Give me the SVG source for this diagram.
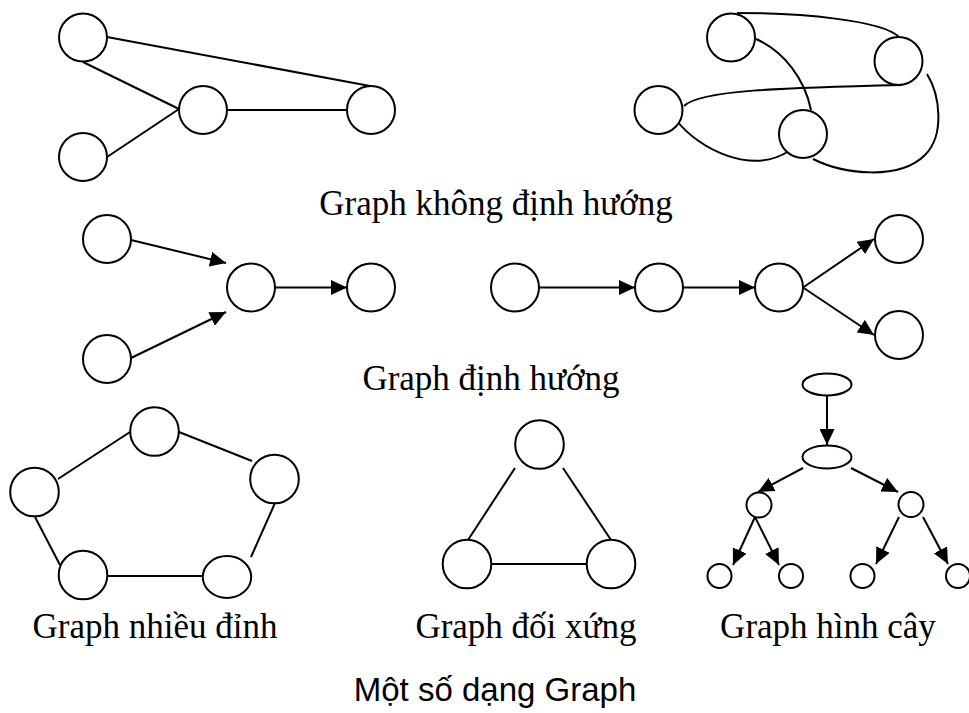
<svg xmlns="http://www.w3.org/2000/svg" width="969" height="713" viewBox="0 0 969 713">
  <style>
    .node { fill: #ffffff; stroke: #000000; stroke-width: 2; }
    .edge { fill: none; stroke: #000000; stroke-width: 2; }
    .arrow { marker-end: url(#head); }
    .cap { font-family: "Liberation Serif", "Times New Roman", serif; font-size: 35px; fill: #000000; text-anchor: middle; }
    .title { font-family: "Liberation Sans", Arial, sans-serif; font-size: 33px; fill: #000000; text-anchor: middle; }
  </style>
  <defs>
    <marker id="head" markerUnits="userSpaceOnUse" markerWidth="16" markerHeight="15" refX="16" refY="7.5" orient="auto">
      <path d="M0,0 L16,7.5 L0,15 Z" fill="#000000"/>
    </marker>
  </defs>

  <rect width="969" height="713" fill="#ffffff"/>

  <!-- connectors -->
  <g id="connectors">
    <!-- undirected graph, left -->
    <line class="edge" x1="107" y1="37" x2="370" y2="86"/>
    <line class="edge" x1="83" y1="62" x2="179" y2="109"/>
    <line class="edge" x1="107" y1="157" x2="179" y2="109"/>
    <line class="edge" x1="227" y1="110" x2="347" y2="110"/>
    <!-- undirected graph, right (curved edges) -->
    <path class="edge" d="M737,13 C800,13 882,20 899,37"/>
    <path class="edge" d="M756,39 C785,52 805,80 811,110"/>
    <path class="edge" d="M684,106 C700,90 780,88 902,85"/>
    <path class="edge" d="M677,121 C700,150 752,175 789,151"/>
    <path class="edge" d="M813,159 C845,175 900,180 925,155 C945,135 940,95 927,74"/>
    <!-- directed graph, left -->
    <line class="edge arrow" x1="131" y1="240" x2="226" y2="263"/>
    <line class="edge arrow" x1="131" y1="358" x2="226" y2="312"/>
    <line class="edge arrow" x1="275" y1="287.5" x2="347" y2="287.5"/>
    <!-- directed graph, right -->
    <line class="edge arrow" x1="539" y1="287.5" x2="635" y2="287.5"/>
    <line class="edge arrow" x1="683" y1="287.5" x2="755" y2="287.5"/>
    <line class="edge arrow" x1="803" y1="287.5" x2="874" y2="239"/>
    <line class="edge arrow" x1="803" y1="287.5" x2="874" y2="335"/>
    <!-- cycle of five -->
    <line class="edge" x1="58" y1="479" x2="130" y2="432"/>
    <line class="edge" x1="179" y1="432" x2="252" y2="461"/>
    <line class="edge" x1="275" y1="503" x2="251" y2="557"/>
    <line class="edge" x1="35" y1="517" x2="60" y2="565"/>
    <line class="edge" x1="107" y1="576" x2="203" y2="576"/>
    <!-- triangle -->
    <line class="edge" x1="515" y1="468" x2="468" y2="540"/>
    <line class="edge" x1="563" y1="468" x2="611" y2="540"/>
    <line class="edge" x1="491" y1="564" x2="587" y2="564"/>
    <!-- tree -->
    <line class="edge arrow" x1="827" y1="396" x2="827" y2="445"/>
    <line class="edge arrow" x1="803" y1="468" x2="758" y2="492"/>
    <line class="edge arrow" x1="851" y1="468" x2="898" y2="492"/>
    <line class="edge arrow" x1="755" y1="517" x2="733" y2="565"/>
    <line class="edge arrow" x1="755" y1="517" x2="779" y2="565"/>
    <line class="edge arrow" x1="899" y1="517" x2="876" y2="564"/>
    <line class="edge arrow" x1="923" y1="517" x2="948" y2="564"/>
  </g>

  <!-- undirected graph, left -->
  <g id="u1a"><circle class="node" cx="83" cy="37.5" r="24"/></g>
  <g id="u1b"><circle class="node" cx="83" cy="157" r="24"/></g>
  <g id="u1c"><circle class="node" cx="203" cy="110" r="24"/></g>
  <g id="u1d"><circle class="node" cx="371" cy="110" r="24"/></g>

  <!-- undirected graph, right -->
  <g id="u2a"><circle class="node" cx="731" cy="37.5" r="24"/></g>
  <g id="u2b"><circle class="node" cx="898.5" cy="61" r="24"/></g>
  <g id="u2c"><circle class="node" cx="658.5" cy="110" r="24"/></g>
  <g id="u2d"><circle class="node" cx="803" cy="134" r="24"/></g>

  <!-- directed graph, left -->
  <g id="d1a"><circle class="node" cx="107" cy="239" r="24"/></g>
  <g id="d1b"><circle class="node" cx="107" cy="359" r="24"/></g>
  <g id="d1c"><circle class="node" cx="251" cy="287.5" r="24"/></g>
  <g id="d1d"><circle class="node" cx="371" cy="287.5" r="24"/></g>

  <!-- directed graph, right -->
  <g id="d2a"><circle class="node" cx="515" cy="287.5" r="24"/></g>
  <g id="d2b"><circle class="node" cx="659" cy="287.5" r="24"/></g>
  <g id="d2c"><circle class="node" cx="779" cy="287.5" r="24"/></g>
  <g id="d2d"><circle class="node" cx="899" cy="239" r="24"/></g>
  <g id="d2e"><circle class="node" cx="899" cy="335" r="24"/></g>

  <!-- cycle of five -->
  <g id="p1"><circle class="node" cx="154.5" cy="431.5" r="24.3"/></g>
  <g id="p2"><circle class="node" cx="34.5" cy="492" r="24.3"/></g>
  <g id="p3"><circle class="node" cx="274.5" cy="479" r="24.3"/></g>
  <g id="p4"><circle class="node" cx="83" cy="575" r="24.3"/></g>
  <g id="p5"><ellipse class="node" cx="227" cy="577" rx="24.2" ry="21"/></g>

  <!-- triangle -->
  <g id="t1"><circle class="node" cx="539.5" cy="444.5" r="24.3"/></g>
  <g id="t2"><circle class="node" cx="467" cy="564" r="24.3"/></g>
  <g id="t3"><circle class="node" cx="611" cy="564" r="24.3"/></g>

  <!-- tree -->
  <g id="r0"><ellipse class="node" cx="827" cy="384.5" rx="24.5" ry="11"/></g>
  <g id="r1"><ellipse class="node" cx="827" cy="457" rx="24.5" ry="11.5"/></g>
  <g id="r2"><circle class="node" cx="759" cy="505" r="12.5"/></g>
  <g id="r3"><circle class="node" cx="911" cy="504.5" r="12.5"/></g>
  <g id="r4"><circle class="node" cx="719.5" cy="576" r="12"/></g>
  <g id="r5"><circle class="node" cx="791" cy="576" r="12"/></g>
  <g id="r6"><circle class="node" cx="862.5" cy="576" r="12"/></g>
  <g id="r7"><circle class="node" cx="958" cy="576" r="12"/></g>

  <!-- captions -->
  <text class="cap" x="496" y="215">Graph không định hướng</text>
  <text class="cap" x="491" y="390">Graph định hướng</text>
  <text class="cap" x="155" y="638">Graph nhiều đỉnh</text>
  <text class="cap" x="526" y="638">Graph đối xứng</text>
  <text class="cap" x="828" y="638">Graph hình cây</text>
  <text class="title" x="495" y="701">Một số dạng Graph</text>
</svg>
